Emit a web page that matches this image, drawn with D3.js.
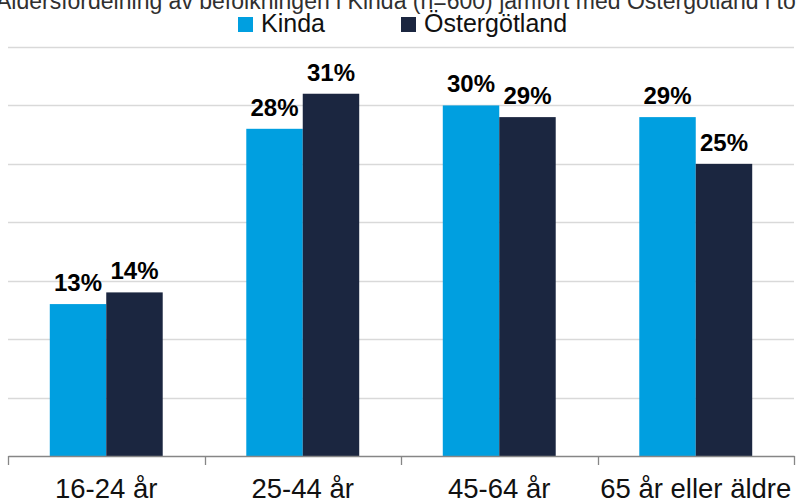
<!DOCTYPE html>
<html>
<head>
<meta charset="utf-8">
<script src="https://cdn.jsdelivr.net/npm/d3@7"></script>
<style>
  body { margin: 0; background: #fff; }
  svg { display: block; }
</style>
</head>
<body>
<svg id="chart" width="797" height="502"></svg>
<script>
var title = "Åldersfördelning av befolkningen i Kinda (n=600) jämfört med Östergötland i totalbefolkningen";
var categories = ["16-24 år", "25-44 år", "45-64 år", "65 år eller äldre"];
var seriesNames = ["Kinda", "Östergötland"];
var kinda = [13, 28, 30, 29];
var ostergotland = [14, 31, 29, 25];
var gridTicks = [0, 5, 10, 15, 20, 25, 30, 35];

var colors = {"Kinda": "#009fe0", "Östergötland": "#1b2640"};

var plotLeft = 8, plotRight = 794, plotBottom = 456, plotTop = 47;

var svg = d3.select("#chart");

var rows = categories.map(function (c, i) {
    return {cat: c, values: [
        {name: "Kinda", v: kinda[i]},
        {name: "Östergötland", v: ostergotland[i]}
    ]};
});

var x = d3.scaleBand().domain(categories).range([plotLeft, plotRight]).padding(0);
var x1 = d3.scaleBand().domain(seriesNames)
    .range([0, x.bandwidth()])
    .paddingInner(0)
    .paddingOuter(0.74);
var y = d3.scaleLinear().domain([0, 35]).range([plotBottom, plotTop]);

// title (cut off at top, as in the original)
svg.append("text")
    .attr("x", -4)
    .attr("y", 9)
    .attr("font-family", "Liberation Sans, Arial, sans-serif")
    .attr("font-size", 23)
    .attr("fill", "#303030")
    .text(title);

// legend
var legendX = [238, 401];
var legend = svg.append("g").selectAll("g")
    .data(seriesNames)
    .enter().append("g")
    .attr("transform", function (d, i) { return "translate(" + legendX[i] + ",0)"; });
legend.append("rect")
    .attr("x", 0).attr("y", 17)
    .attr("width", 15).attr("height", 15)
    .attr("fill", function (d) { return colors[d]; });
legend.append("text")
    .attr("x", 23).attr("y", 32)
    .attr("font-family", "Liberation Sans, Arial, sans-serif")
    .attr("font-size", 25)
    .attr("fill", "#111")
    .text(function (d) { return d; });

// gridlines
svg.append("g")
    .selectAll("line")
    .data(gridTicks.slice(1))
    .enter().append("line")
    .attr("x1", plotLeft).attr("x2", plotRight)
    .attr("y1", function (d) { return Math.round(y(d)) + 0.5; })
    .attr("y2", function (d) { return Math.round(y(d)) + 0.5; })
    .attr("stroke", "#d9d9d9")
    .attr("stroke-width", 1.3);

// bars
var groups = svg.append("g").selectAll("g")
    .data(rows)
    .enter().append("g")
    .attr("transform", function (d) { return "translate(" + x(d.cat) + ",0)"; });

groups.selectAll("rect")
    .data(function (d) { return d.values; })
    .enter().append("rect")
    .attr("x", function (d) { return x1(d.name); })
    .attr("width", x1.bandwidth())
    .attr("y", function (d) { return y(d.v); })
    .attr("height", function (d) { return y(0) - y(d.v); })
    .attr("fill", function (d) { return colors[d.name]; });

groups.selectAll("text")
    .data(function (d) { return d.values; })
    .enter().append("text")
    .attr("x", function (d) { return x1(d.name) + x1.bandwidth() / 2; })
    .attr("y", function (d) { return y(d.v) - 13; })
    .attr("text-anchor", "middle")
    .attr("font-family", "Liberation Sans, Arial, sans-serif")
    .attr("font-weight", "bold")
    .attr("font-size", 24)
    .attr("fill", "#000")
    .text(function (d) { return d.v + "%"; });

// x axis
var xAxis = d3.axisBottom(x).tickSize(0).tickPadding(0);
var ax = svg.append("g")
    .attr("transform", "translate(0," + plotBottom + ")")
    .call(xAxis);
ax.select(".domain").attr("stroke", "#868686").attr("stroke-width", 1.3);
ax.selectAll(".tick text")
    .attr("y", 42)
    .attr("dy", 0)
    .attr("font-family", "Liberation Sans, Arial, sans-serif")
    .attr("font-size", 27.5)
    .attr("fill", "#111");

// category separators
var edges = categories.map(function (c) { return x(c); }).concat([plotRight]);
ax.selectAll("line.sep")
    .data(edges)
    .enter().append("line")
    .attr("class", "sep")
    .attr("x1", function (d) { return Math.round(d) + 0.5; })
    .attr("x2", function (d) { return Math.round(d) + 0.5; })
    .attr("y1", 0).attr("y2", 9)
    .attr("stroke", "#868686")
    .attr("stroke-width", 1.3);
</script>
</body>
</html>
